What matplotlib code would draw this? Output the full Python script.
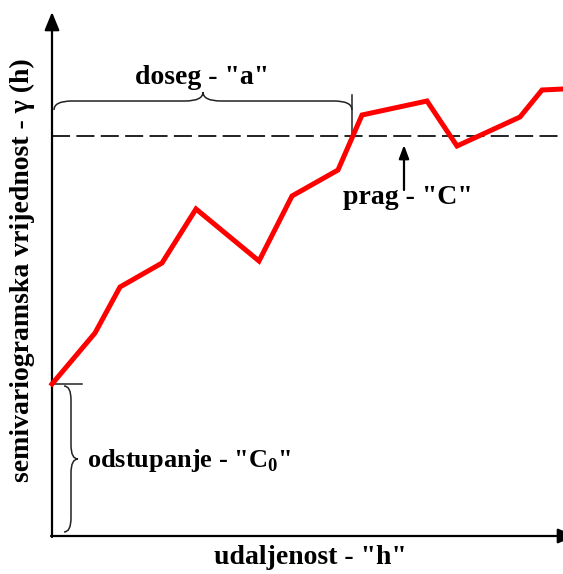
import matplotlib
matplotlib.use("Agg")
import matplotlib.pyplot as plt
from matplotlib.path import Path
from matplotlib.patches import PathPatch

plt.rcParams['font.family'] = ['Liberation Serif', 'DejaVu Serif']
plt.rcParams['font.weight'] = 'bold'
plt.rcParams['mathtext.fontset'] = 'custom'
plt.rcParams['mathtext.rm'] = 'Liberation Serif:bold'

# semivariogram samples (schematic units)
h_vals = [0, 43, 68, 110, 144, 207, 240, 286, 310, 375, 405, 468, 490, 511]
gamma_vals = [152, 203, 249, 273, 327, 275, 340, 366, 421, 435, 390, 419, 446, 447]
sill = 400
nugget = 152
range_a = 300

xlabel = 'udaljenost - "h"'
ylabel = 'semivariogramska vrijednost - γ (h)'
range_label = 'doseg - "a"'
sill_label = 'prag - "C"'
nugget_label = r'odstupanje - "C$_{\mathregular{0}}$"'


def brace(ax, x0, x1, y, h, horizontal=True):
    # curly brace, ends at level y, tip at y+h
    xm = (x0 + x1) / 2
    r = abs(h) * 1.0
    s = 1 if x1 > x0 else -1
    pts = [(x0, y), (x0, y + h / 2), (x0 + s * r, y + h / 2),
           (xm - s * r, y + h / 2), (xm, y + h / 2), (xm, y + h),
           (xm, y + h / 2), (xm + s * r, y + h / 2),
           (x1 - s * r, y + h / 2), (x1, y + h / 2), (x1, y)]
    if not horizontal:
        pts = [(b, a) for a, b in pts]
    codes = [Path.MOVETO, Path.CURVE3, Path.CURVE3, Path.LINETO,
             Path.CURVE3, Path.CURVE3, Path.CURVE3, Path.CURVE3,
             Path.LINETO, Path.CURVE3, Path.CURVE3]
    ax.add_patch(PathPatch(Path(pts, codes), fill=False, lw=1.1, color='#222222'))


fig = plt.figure(figsize=(5.63, 5.74), dpi=100)
ax = fig.add_axes([0, 0, 1, 1])
ax.set_xlim(-52, 511)
ax.set_ylim(-38, 536)
ax.axis('off')

# axes with arrows
ax.annotate('', xy=(0, 524), xytext=(0, -1), annotation_clip=False,
            arrowprops=dict(arrowstyle='-|>,head_length=1.1,head_width=0.45', lw=1.6, color='black', shrinkA=0, shrinkB=0))
ax.annotate('', xy=(524, 0), xytext=(-1, 0), annotation_clip=False,
            arrowprops=dict(arrowstyle='-|>,head_length=1.1,head_width=0.45', lw=1.6, color='black', shrinkA=0, shrinkB=0))

# sill
sl, = ax.plot([0, 511], [sill, sill], color='#111111', lw=1.3)
sl.set_dashes((10, 3.5))

# semivariogram
ax.plot(h_vals, gamma_vals, color='#ff0000', lw=3.6, solid_joinstyle='miter', zorder=5)

# nugget tick
ax.plot([0, 30], [nugget, nugget], color='#222222', lw=1.1)
# range tick
ax.plot([range_a, range_a], [sill - 2, 441], color='#222222', lw=1.1)

brace(ax, 2, range_a, 426, 18, horizontal=True)
brace(ax, nugget - 2, 4, 12, 14, horizontal=False)

# sill arrow
ax.annotate('', xy=(352, sill - 9), xytext=(352, 346),
            arrowprops=dict(arrowstyle='-|>,head_length=0.8,head_width=0.3', lw=1.6, color='black', shrinkA=0, shrinkB=0))

ax.text(range_a / 2, 459, range_label, ha='center', va='center', fontsize=20, fontweight='bold')
ax.text(356, 339, sill_label, ha='center', va='center', fontsize=20, fontweight='bold')
ax.text(35, 76, nugget_label, ha='left', va='center', fontsize=19, fontweight='bold')
ax.text(258, -21, xlabel, ha='center', va='center', fontsize=20, fontweight='bold')
ax.text(-30, 266, ylabel, ha='center', va='center', rotation=90, fontsize=20, fontweight='bold')

fig.savefig('out.png', dpi=100)
